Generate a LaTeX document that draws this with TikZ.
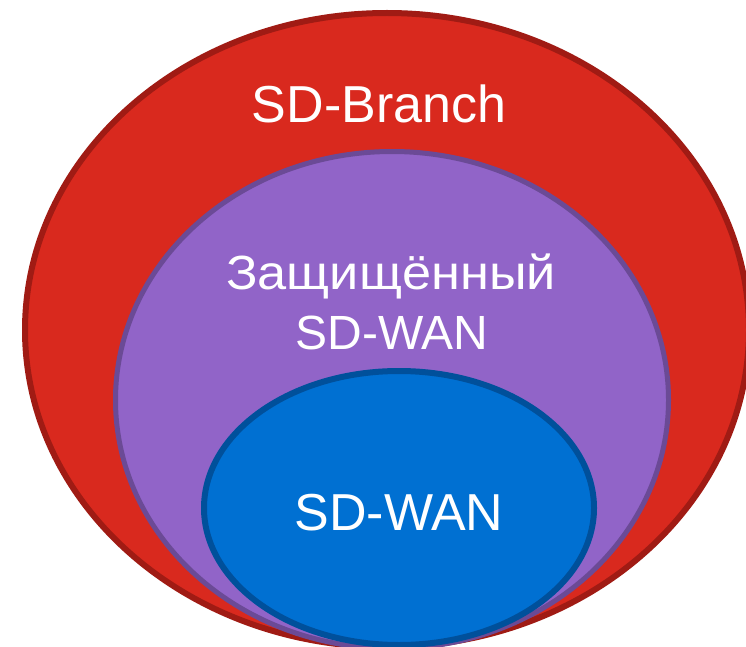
\documentclass[tikz,border=0pt]{standalone}
\usepackage{fontspec}
\setmainfont{Liberation Sans}
\definecolor{redfill}{RGB}{217,41,30}
\definecolor{redline}{RGB}{160,27,20}
\definecolor{purfill}{RGB}{145,100,200}
\definecolor{purline}{RGB}{107,74,150}
\definecolor{bluefill}{RGB}{0,112,210}
\definecolor{blueline}{RGB}{0,80,155}
\tikzset{
  lbl/.style={text=white, anchor=base, inner sep=0pt, font=\fontsize{52}{60}\selectfont},
  lblm/.style={text=white, anchor=base, inner sep=0pt, font=\fontsize{48}{60}\selectfont}
}
\begin{document}
\begin{tikzpicture}[x=1pt,y=-1pt]
\useasboundingbox (0,0) rectangle (746,647);
\clip (0,0) rectangle (746,647);
\draw[fill=redfill, draw=redline, line width=6pt] (387,330) ellipse [x radius=362pt, y radius=317pt];
\draw[fill=purfill, draw=purline, line width=5pt] (392,400) ellipse [x radius=276.5pt, y radius=248.5pt];
\draw[fill=bluefill, draw=blueline, line width=6pt] (399,508) ellipse [x radius=195pt, y radius=137pt];
\node[lbl] (branch) at (379,123) {SD-Branch};
\node[lblm] (secure1) at (391,289) {\scalebox{1.09}[1]{Защищённый}};
\node[lblm] (secure2) at (392,349) {SD-WAN};
\node[lbl] (wan) at (399,530) {SD-WAN};
\end{tikzpicture}
\end{document}
